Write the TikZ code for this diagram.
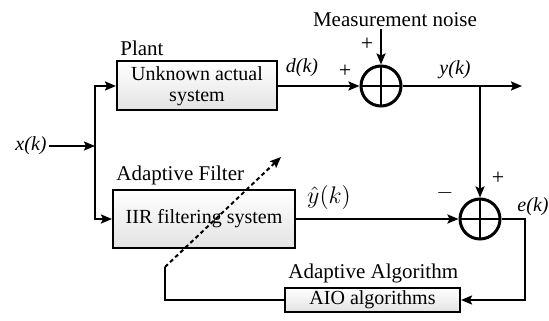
\documentclass[tikz,border=0pt]{standalone}
\usepackage{fontspec}
\setmainfont{Liberation Serif}
\usetikzlibrary{arrows.meta, positioning, calc}
\tikzset{
  blk/.style={draw, line width=1pt, top color=white, bottom color=gray!22, inner sep=1pt,
    align=center, font=\fontsize{10}{10.5}\selectfont},
  sumnode/.style={draw, circle, line width=1.5pt, minimum size=20pt, inner sep=0pt,
    path picture={\draw[line width=1.2pt]
      (path picture bounding box.north) -- (path picture bounding box.south)
      (path picture bounding box.west) -- (path picture bounding box.east);}},
  lbl/.style={inner sep=1pt, font=\fontsize{10.5}{12}\selectfont},
  sig/.style={inner sep=1pt, font=\fontsize{10}{12}\selectfont\itshape},
  sgn/.style={inner sep=0pt, font=\fontsize{11}{12}\selectfont},
  arr/.style={-{Stealth[length=5.5pt, width=4.5pt, inset=1pt]}, line width=1pt},
  ln/.style={line width=1pt},
}

\begin{document}
\begin{tikzpicture}[x=0.5pt, y=-0.5pt]
  \useasboundingbox (0,0) rectangle (549,320);

  % blocks
  \node[blk, minimum width=80pt, minimum height=24.5pt] (plant) at (197,86) {Unknown actual\\system};
  \node[blk, minimum width=91pt, minimum height=29pt] (iir) at (204,219) {IIR filtering system};
  \node[blk, minimum width=87.5pt, minimum height=12pt] (aio) at (372.5,300) {AIO algorithms};
  \node[lbl, anchor=south west, inner sep=2pt] (plantlbl) at (plant.north west) {Plant};
  \node[lbl, anchor=south west, inner sep=2pt] (filtlbl) at (iir.north west) {Adaptive Filter};
  \node[lbl, anchor=south west, inner sep=2pt] (alglbl) at (aio.north west) {Adaptive Algorithm};

  % summing junctions
  \node[sumnode] (sum1) at (381,86) {};
  \node[sumnode] (sum2) at (480,219) {};

  % input and branch
  \node[sig] (xin) at (31,146) {x(k)};
  \coordinate (jn) at (95,146);
  \draw[arr] (xin) -- (jn);
  \draw[arr] (jn) |- (plant.west);
  \draw[arr] (jn) |- (iir.west);

  % plant path
  \draw[arr] (plant) -- (sum1);
  \node[sig] (dk) at (302,68) {d(k)};
  \node[sgn] (p1) at (345,71) {+};
  \node[lbl] (noise) at (395,20) {Measurement noise};
  \draw[arr] (sum1 |- noise.south) -- (sum1.north);
  \node[sgn] (p2) at (367,44) {+};
  \coordinate (br) at (480,86);
  \coordinate (yout) at (522,86);
  \draw[arr] (sum1) -- (yout);
  \node[sig] (yk) at (455,70) {y(k)};

  % error
  \draw[arr] (br) -- (sum2);
  \draw[arr] (iir) -- (sum2);
  \node[inner sep=0pt, font=\fontsize{12}{14}\selectfont] (yhat) at (329,197) {$\hat{y}(k)$};
  \node[sgn] (m1) at (445,193) {$-$};
  \node[sgn] (p3) at (498,178) {+};
  \node[sig] (ek) at (533,207) {e(k)};
  \coordinate (eright) at (525,219);
  \draw[arr] (sum2) -- (eright) |- (aio.east);

  % adaptation feedback
  \coordinate (fb) at (165,267);
  \coordinate (tip) at (281,157);
  \draw[ln] (aio.west) -| (fb);
  \draw[arr, dash pattern=on 2pt off 1.5pt] (fb) -- (tip);
\end{tikzpicture}
\end{document}
